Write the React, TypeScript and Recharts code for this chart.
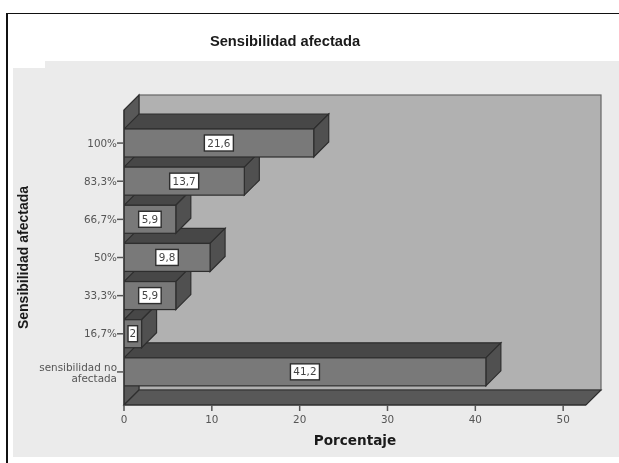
import { Bar, BarChart, LabelList, XAxis, YAxis, usePlotArea } from 'recharts';

// Ordered bottom to top, so upper bars paint over the tops of the lower ones
const categories = ['sensibilidad no afectada', '16,7%', '33,3%', '50%', '66,7%', '83,3%', '100%'];
const percentages = [41.2, 2, 5.9, 9.8, 5.9, 13.7, 21.6];
const xTicks = [0, 10, 20, 30, 40, 50];

const DEPTH = 15;
const FRONT = '#797979';
const TOP = '#474747';
const SIDE = '#505050';
const WALL = '#b1b1b1';
const FLOOR = '#585858';
const EDGE = '#2e2e2e';
const TEXT = '#555555';
const TICK_FONT = '"DejaVu Sans", sans-serif';

const data = categories.map((name, i) => ({ name, value: percentages[i] }));

// Back wall, left wall and floor of the 3D box
function Walls() {
  const plot = usePlotArea();
  if (!plot) return null;
  const { x, y, width, height } = plot;
  const right = x + width;
  const bottom = y + height;
  return (
    <g stroke={EDGE} strokeWidth={1.2}>
      <rect x={x + DEPTH} y={y - DEPTH} width={width} height={height} fill={WALL} stroke="#666666" />
      <polygon
        points={`${x},${y} ${x + DEPTH},${y - DEPTH} ${x + DEPTH},${bottom - DEPTH} ${x},${bottom}`}
        fill={FLOOR}
      />
      <polygon
        points={`${x},${bottom} ${right},${bottom} ${right + DEPTH},${bottom - DEPTH} ${x + DEPTH},${bottom - DEPTH}`}
        fill={FLOOR}
      />
    </g>
  );
}

function Bar3D({ x, y, width, height }: any) {
  const r = x + width;
  const b = y + height;
  return (
    <g stroke={EDGE} strokeWidth={1.2}>
      <polygon points={`${x},${y} ${r},${y} ${r + DEPTH},${y - DEPTH} ${x + DEPTH},${y - DEPTH}`} fill={TOP} />
      <polygon points={`${r},${y} ${r + DEPTH},${y - DEPTH} ${r + DEPTH},${b - DEPTH} ${r},${b}`} fill={SIDE} />
      <rect x={x} y={y} width={width} height={height} fill={FRONT} />
    </g>
  );
}

function ValueBox({ x, y, width, height, value }: any) {
  const label = String(value).replace('.', ',');
  const w = label.length * 6.5 + 3;
  const cx = x + width / 2;
  const cy = y + height / 2;
  return (
    <g>
      <rect x={cx - w / 2} y={cy - 8} width={w} height={16} fill="#ffffff" stroke="#2e2e2e" strokeWidth={1.4} />
      <text x={cx} y={cy + 3.5} textAnchor="middle" fontSize={10.4} fontFamily={TICK_FONT} fill="#444444">
        {label}
      </text>
    </g>
  );
}

function CategoryTick({ x, y, payload }: any) {
  const text: string = payload.value;
  const cut = text.lastIndexOf(' ');
  const lines = cut > 0 ? [text.slice(0, cut), text.slice(cut + 1)] : [text];
  return (
    <text x={x + 2} textAnchor="end" fontSize={10.4} fontFamily={TICK_FONT} fill={TEXT}>
      {lines.map((line, i) => (
        <tspan key={line} x={x + 2} y={y + 3.5 + (i - (lines.length - 1) / 2) * 11 + (lines.length - 1)}>
          {line}
        </tspan>
      ))}
    </text>
  );
}

export default function App() {
  return (
    <div style={{ position: 'absolute', left: 0, top: 0, width: 619, height: 463, background: '#ffffff', overflow: 'hidden', filter: 'blur(0.4px)' }}>
      <div style={{ position: 'absolute', left: 6, top: 13, width: 620, height: 449, borderTop: '1px solid #111111', borderBottom: '1px solid #111111', borderLeft: '2px solid #111111' }} />
      <div style={{ position: 'absolute', left: 13, top: 68, width: 606, height: 389, background: '#ebebeb' }} />
      <div style={{ position: 'absolute', left: 45, top: 61, width: 574, height: 10, background: '#ebebeb' }} />
      <div
        style={{
          position: 'absolute',
          left: 0,
          top: 33,
          width: 570,
          textAlign: 'center',
          font: 'bold 14.7px "Liberation Sans", sans-serif',
          color: '#1a1a1a',
        }}
      >
        Sensibilidad afectada
      </div>
      <div style={{ position: 'absolute', left: 0, top: 0 }}>
        <BarChart
          width={619}
          height={463}
          data={data}
          layout="vertical"
          barSize={28}
          margin={{ top: 110, right: 33, bottom: 18, left: 24 }}
        >
          <Walls />
          <XAxis
            type="number"
            domain={[0, 52.6]}
            ticks={xTicks}
            allowDataOverflow
            height={40}
            tickSize={6}
            tickMargin={5}
            axisLine={{ stroke: EDGE }}
            tickLine={{ stroke: TEXT, strokeWidth: 1.5 }}
            tick={{ fontSize: 10.4, fontFamily: TICK_FONT, fill: TEXT }}
            label={{
              value: 'Porcentaje',
              position: 'insideBottom',
              offset: 0,
              style: { fontSize: 13.6, fontWeight: 700, fontFamily: TICK_FONT, fill: '#1a1a1a' },
            }}
          />
          <YAxis
            type="category"
            dataKey="name"
            reversed
            width={100}
            padding={{ top: 14, bottom: 14 }}
            interval={0}
            tickSize={7}
            axisLine={{ stroke: EDGE }}
            tickLine={{ stroke: TEXT, strokeWidth: 1.5 }}
            tick={<CategoryTick />}
            label={{
              value: 'Sensibilidad afectada',
              angle: -90,
              position: 'insideLeft',
              offset: -1,
              style: { textAnchor: 'middle', fontSize: 14, fontWeight: 700, fontFamily: '"Liberation Sans", sans-serif', fill: '#1a1a1a' },
            }}
          />
          <Bar dataKey="value" isAnimationActive={false} shape={<Bar3D />}>
            <LabelList dataKey="value" content={<ValueBox />} />
          </Bar>
        </BarChart>
      </div>
    </div>
  );
}
